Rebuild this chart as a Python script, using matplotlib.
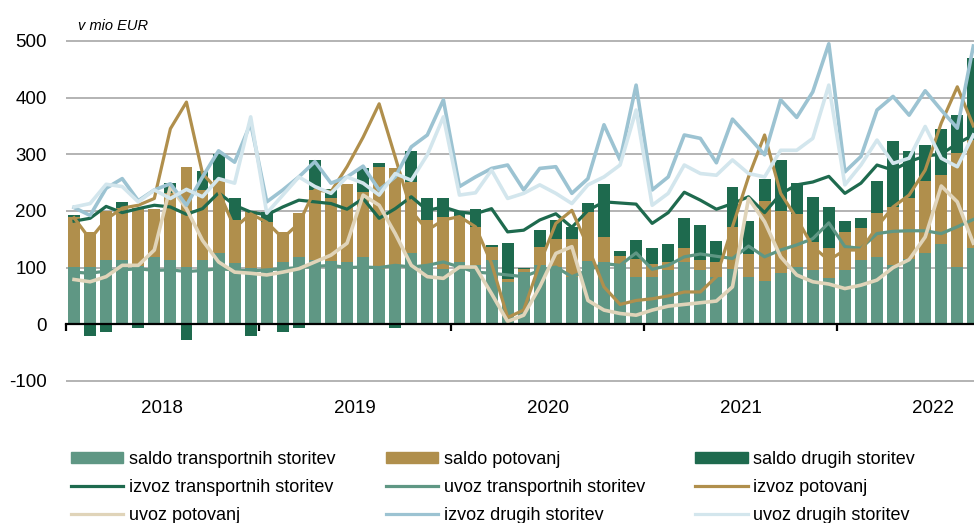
import numpy as np
import matplotlib.pyplot as plt
from matplotlib.patches import Patch
from matplotlib.lines import Line2D

# monthly data, Jan 2018 - Sep 2022 (mio EUR)
years = ["2018", "2019", "2020", "2021", "2022"]

saldo_transport = [101, 101, 113, 113, 103, 119, 113, 101, 113, 126, 108, 100,
                   98, 109, 119, 114, 112, 109, 119, 98, 104, 126, 104, 98,
                   110, 105, 113, 75, 93, 105, 101, 84, 112, 109, 107, 84,
                   84, 95, 109, 95, 84, 98, 84, 77, 91, 101, 95, 81,
                   95, 113, 119, 104, 116, 126, 141, 101, 134]
saldo_potovanja = [89, 61, 87, 92, 102, 84, 118, 177, 124, 128, 76, 100,
                   83, 53, 78, 123, 110, 138, 115, 180, 171, 125, 80, 92,
                   78, 67, 24, 5, 4, 32, 49, 67, 86, 45, 13, 32,
                   23, 15, 25, 18, 26, 74, 40, 141, 109, 93, 50, 53,
                   67, 56, 78, 103, 106, 127, 122, 202, 191]
saldo_drugo = [2, -21, -13, 10, -6, 0, 19, -27, 34, 46, 38, -21,
               17, -14, -6, 52, 16, 0, 41, 7, -6, 55, 38, 32,
               12, 31, 3, 64, 2, 29, 34, 21, 16, 94, 10, 32,
               27, 31, 53, 62, 37, 71, 59, 38, 89, 56, 80, 73,
               21, 18, 56, 117, 84, 63, 82, 66, 144]

izvoz_transport = [182, 187, 208, 197, 204, 210, 207, 194, 204, 232, 210, 198,
                   193, 207, 219, 216, 213, 203, 222, 187, 204, 225, 201, 207,
                   198, 195, 204, 163, 166, 184, 195, 171, 201, 216, 214, 212,
                   178, 197, 233, 219, 203, 213, 225, 197, 230, 246, 251, 261,
                   231, 249, 281, 272, 287, 297, 300, 319, 334]
uvoz_transport = [92, 90, 94, 96, 98, 95, 96, 93, 95, 98, 96, 94,
                  96, 98, 100, 102, 104, 100, 101, 100, 104, 101, 104, 110,
                  101, 92, 90, 87, 84, 95, 101, 84, 95, 107, 104, 126,
                  97, 104, 119, 124, 120, 116, 138, 119, 131, 140, 151, 179,
                  137, 134, 160, 164, 165, 165, 160, 172, 185]
izvoz_potovanja = [188, 150, 185, 205, 210, 222, 345, 392, 266, 235, 170, 195,
                   180, 152, 178, 237, 234, 278, 330, 389, 295, 200, 166, 184,
                   190, 172, 107, 12, 25, 107, 178, 201, 137, 66, 35, 42,
                   45, 50, 57, 57, 84, 172, 260, 334, 231, 187, 137, 113,
                   131, 131, 172, 207, 228, 272, 355, 419, 350]
uvoz_potovanja = [79, 75, 84, 104, 104, 131, 243, 204, 148, 110, 92, 90,
                  87, 92, 98, 110, 122, 143, 228, 210, 160, 104, 84, 81,
                  101, 101, 54, 5, 16, 66, 125, 137, 42, 25, 19, 16,
                  25, 32, 35, 38, 41, 66, 222, 181, 119, 87, 75, 71,
                  63, 69, 78, 100, 114, 154, 244, 216, 143]
izvoz_drugo = [206, 192, 240, 257, 218, 237, 248, 210, 260, 306, 286, 355,
               216, 237, 260, 287, 249, 260, 279, 237, 260, 313, 334, 396,
               243, 260, 275, 281, 237, 275, 278, 231, 257, 352, 290, 422,
               237, 260, 334, 328, 285, 362, 331, 299, 396, 365, 410, 495,
               269, 296, 378, 402, 369, 412, 378, 346, 491]
uvoz_drugo = [207, 213, 247, 243, 216, 237, 222, 238, 225, 257, 249, 366,
              196, 228, 260, 243, 231, 260, 249, 228, 266, 254, 299, 366,
              228, 232, 272, 222, 231, 246, 231, 213, 246, 260, 281, 378,
              210, 231, 281, 266, 263, 290, 266, 260, 307, 307, 328, 422,
              246, 281, 325, 284, 293, 349, 293, 278, 334]

c_teal = "#5f9784"
c_tan = "#b08f4c"
c_dark = "#1e6a4e"
c_beige = "#e0d4b9"
c_blue = "#9cc3d2"
c_lblue = "#d3e6ed"

plt.rcParams["font.family"] = ["Liberation Sans", "DejaVu Sans"]
plt.rcParams["axes.unicode_minus"] = False

fig = plt.figure(figsize=(9.74, 5.23), dpi=100)
ax = fig.add_axes([66 / 974, 0.2662, 1 - 66 / 974, 0.661])

x = np.arange(len(saldo_transport))
st = np.array(saldo_transport)
sp = np.array(saldo_potovanja)
sd = np.array(saldo_drugo)
w = 0.74

ax.bar(x, st, w, color=c_teal, zorder=2)
ax.bar(x, sp, w, bottom=st, color=c_tan, zorder=2)
ax.bar(x, sd, w, bottom=np.where(sd > 0, st + sp, 0), color=c_dark, zorder=2)

lw = 2.3
ax.plot(x, izvoz_transport, color=c_dark, lw=lw, zorder=3)
ax.plot(x, uvoz_transport, color=c_teal, lw=lw, zorder=3)
ax.plot(x, izvoz_potovanja, color=c_tan, lw=lw, zorder=3)
ax.plot(x, uvoz_potovanja, color=c_beige, lw=2.6, zorder=3)
ax.plot(x, izvoz_drugo, color=c_blue, lw=2.6, zorder=3)
ax.plot(x, uvoz_drugo, color=c_lblue, lw=2.6, zorder=3)

ax.set_xlim(-0.5, 56.04)
ax.set_ylim(-105, 505)
ax.set_yticks(range(-100, 501, 100))
ax.tick_params(axis="y", length=0, pad=14, labelsize=13.5)
ax.yaxis.grid(True, color="#b3b3b3", lw=1.4)
ax.set_axisbelow(True)

for s in ["top", "right", "left"]:
    ax.spines[s].set_visible(False)
ax.spines["bottom"].set_position(("data", 0))
ax.spines["bottom"].set_linewidth(1.6)
ax.spines["bottom"].set_zorder(4)
ax.set_xticks([-0.5 + 12 * k for k in range(5)])
ax.set_xticklabels([])
ax.tick_params(axis="x", direction="out", length=5, width=1.6)

for k, yr in enumerate(years):
    ax.text(12 * k + 5.5, -148, yr, ha="center", va="center", fontsize=13.5, clip_on=False)

fig.text(78 / 974, 1 - 30 / 523, "v mio EUR", fontsize=10.5, style="italic")

handles = [
    Patch(color=c_teal), Line2D([], [], color=c_dark, lw=lw), Line2D([], [], color=c_beige, lw=lw),
    Patch(color=c_tan), Line2D([], [], color=c_teal, lw=lw), Line2D([], [], color=c_blue, lw=lw),
    Patch(color=c_dark), Line2D([], [], color=c_tan, lw=lw), Line2D([], [], color=c_lblue, lw=lw),
]
labels = ["saldo transportnih storitev", "izvoz transportnih storitev", "uvoz potovanj",
          "saldo potovanj", "uvoz transportnih storitev", "izvoz drugih storitev",
          "saldo drugih storitev", "izvoz potovanj", "uvoz drugih storitev"]
fig.legend(handles, labels, ncol=3, loc="upper left", bbox_to_anchor=(71 / 974, 1 - 451 / 523),
           frameon=False, borderpad=0, borderaxespad=0, handlelength=2.9, handleheight=0.55,
           handletextpad=0.3, columnspacing=2.8, labelspacing=0.62,
           prop={"family": ["Liberation Sans", "DejaVu Sans"], "size": 13})

fig.savefig("out.png", dpi=100)
